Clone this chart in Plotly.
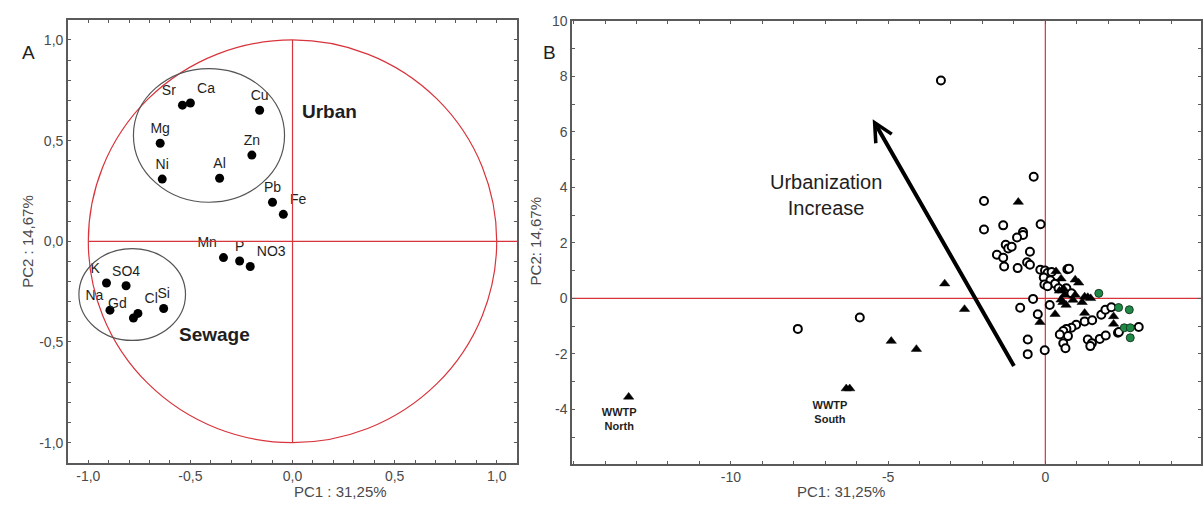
import plotly.graph_objects as go

# ---------------- Panel A data (loadings) ----------------
var_names = ["Sr", "Ca", "Cu", "Mg", "Zn", "Ni", "Al", "Pb", "Fe",
             "Mn", "P", "NO3", "K", "SO4", "Na", "Gd", "Cl", "Si"]
pc1_load = [-0.539, -0.500, -0.161, -0.648, -0.199, -0.638, -0.357, -0.098, -0.045,
            -0.338, -0.259, -0.207, -0.911, -0.815, -0.894, -0.779, -0.757, -0.631]
pc2_load = [0.676, 0.687, 0.651, 0.487, 0.428, 0.309, 0.313, 0.194, 0.134,
            -0.081, -0.098, -0.125, -0.207, -0.221, -0.342, -0.381, -0.358, -0.334]
label_pos = ["top left", "top right", "top center", "top center", "top center",
             "top center", "top center", "top center", "top right",
             "top left", "top center", "top right", "top left", "top center",
             "top left", "top left", "top right", "top center"]

# ---------------- Panel B data (scores) ----------------
circ_x = [-3.32, -7.87, -5.90,
          -0.37, -1.95, -1.95, -1.34, -0.15, -0.71, -0.71, -0.90, -1.26, -1.18,
          -1.07, -1.54, -1.34, -1.31, -0.88, -0.49, -0.58, -0.49, -0.16, -0.01,
          0.07, 0.70, -0.05, 0.16, 0.31, -0.03, 0.07, 0.42, 0.67, -0.39, -0.80,
          0.14, -0.24, 0.83, 1.25, 1.49, 1.78, 1.91, 2.10, 0.98, 0.83, 0.67,
          0.57, 0.46, 0.72, 0.57, 0.64, 1.35, 1.48, 1.43, 1.73, 1.92, 2.31,
          2.97, -0.56, -0.56, -0.02, 0.75, 2.34, 0.20]
circ_y = [7.85, -1.10, -0.69,
          4.38, 3.51, 2.48, 2.63, 2.67, 2.39, 2.28, 2.19, 1.93, 1.80,
          1.86, 1.57, 1.46, 1.15, 1.09, 1.68, 1.30, 1.21, 1.03, 1.00,
          0.91, 1.05, 0.75, 0.65, 0.53, 0.50, 0.44, 0.36, 0.36, -0.02, -0.34,
          -0.24, -0.57, 0.18, -0.83, -0.79, -0.59, -0.41, -0.32, -0.95, -1.06, -1.10,
          -1.18, -1.30, -1.36, -1.62, -1.80, -1.48, -1.62, -1.72, -1.46, -1.34, -1.24,
          -1.03, -1.48, -2.01, -1.87, 1.07, -1.21, 0.95]
tri_x = [-3.20, -4.90, -4.10, -6.33, -6.22, -13.25, -0.86, -2.57,
         0.34, 0.50, 0.95, 1.06, 0.45, 0.61, 0.95, 1.25, 1.35, 1.44,
         0.56, 0.66, 0.88, 1.17, 0.31, -0.17, 1.25, 2.17, 2.17, 0.50, 0.58]
tri_y = [0.53, -1.54, -1.83, -3.25, -3.25, -3.55, 3.47, -0.39,
         0.97, 0.71, 0.67, 0.56, 0.27, 0.12, 0.12, 0.06, 0.04, 0.00,
         -0.14, -0.24, -0.06, -0.14, -0.57, -0.86, -0.53, -0.65, -0.92, -0.05, 0.35]
green_x = [1.70, 2.33, 2.67, 2.51, 2.70, 2.70]
green_y = [0.18, -0.33, -0.41, -1.06, -1.06, -1.42]

site_labels = ["<b>WWTP</b><br><b>North</b>", "<b>WWTP</b><br><b>South</b>"]
site_x = [-13.55, -6.85]
site_y = [-4.40, -4.15]

arrow_tail = (-0.97, -2.49)
arrow_head = (-5.49, 6.45)

# ---------------- tick labels ----------------
a_ticks = [-1.0, -0.5, 0.0, 0.5, 1.0]
a_ticktext = ["-1,0", "-0,5", "0,0", "0,5", "1,0"]
bx_ticks = [-10, -5, 0]
bx_ticktext = ["-10", "-5", "0"]
by_ticks = [-4, -2, 0, 2, 4, 6, 8, 10]
by_ticktext = ["-4", "-2", "0", "2", "4", "6", "8", "10"]

W, H = 1203, 513
FONT = "Liberation Sans, Arial, sans-serif"
RED = "#d8343c"
FRAME = "#5a5a5a"
TXT = "#4a4a4a"
DARK = "#1e1e1e"

fig = go.Figure()

# Panel A
fig.add_trace(go.Scatter(
    x=pc1_load, y=pc2_load, mode="markers+text", text=var_names,
    textposition=label_pos, textfont=dict(family=FONT, size=14, color=DARK),
    marker=dict(color="black", size=9), xaxis="x", yaxis="y",
    showlegend=False, cliponaxis=False))

# Panel B
fig.add_trace(go.Scatter(
    x=circ_x, y=circ_y, mode="markers",
    marker=dict(symbol="circle", color="white", size=8,
                line=dict(color="black", width=2)),
    xaxis="x2", yaxis="y2", showlegend=False))
fig.add_trace(go.Scatter(
    x=tri_x, y=tri_y, mode="markers",
    marker=dict(symbol="triangle-up", color="black", size=9,
                line=dict(color="black", width=0.5)),
    xaxis="x2", yaxis="y2", showlegend=False))
fig.add_trace(go.Scatter(
    x=green_x, y=green_y, mode="markers",
    marker=dict(symbol="circle", color="#1f8a45", size=8,
                line=dict(color="#1a3a25", width=1)),
    xaxis="x2", yaxis="y2", showlegend=False))
fig.add_trace(go.Scatter(
    x=site_x, y=site_y, mode="text", text=site_labels,
    textfont=dict(family=FONT, size=11, color=DARK),
    xaxis="x2", yaxis="y2", showlegend=False))

shapes = []
# Panel A shapes
shapes.append(dict(type="circle", xref="x", yref="y", x0=-1, x1=1, y0=-1, y1=1,
                   line=dict(color=RED, width=1.2)))
shapes.append(dict(type="line", xref="x", yref="y", x0=-1, x1=1.1, y0=0, y1=0,
                   line=dict(color=RED, width=1.2)))
shapes.append(dict(type="line", xref="x", yref="y", x0=0, x1=0, y0=-1, y1=1,
                   line=dict(color=RED, width=1.2)))
shapes.append(dict(type="circle", xref="x", yref="y", x0=-0.779, x1=-0.039,
                   y0=0.194, y1=0.858, line=dict(color="#555555", width=1.2)))
shapes.append(dict(type="circle", xref="x", yref="y", x0=-1.046, x1=-0.524,
                   y0=-0.492, y1=-0.036, line=dict(color="#555555", width=1.2)))
# Panel B red cross
shapes.append(dict(type="line", xref="x2", yref="y2 domain", x0=0, x1=0, y0=0, y1=1,
                   line=dict(color=RED, width=1.2), layer="below"))
shapes.append(dict(type="line", xref="x2 domain", yref="y2", x0=0, x1=1, y0=0, y1=0,
                   line=dict(color=RED, width=1.2), layer="below"))

annotations = [
    dict(text="<b>Urban</b>", x=0.18, y=0.643, xref="x", yref="y", showarrow=False,
         font=dict(family=FONT, size=19, color=DARK)),
    dict(text="<b>Sewage</b>", x=-0.381, y=-0.463, xref="x", yref="y", showarrow=False,
         font=dict(family=FONT, size=19, color=DARK)),
    dict(text="A", x=20 / W, y=1 - 33 / H, xref="paper", yref="paper", showarrow=False,
         font=dict(family=FONT, size=19, color=DARK)),
    dict(text="B", x=550 / W, y=1 - 32 / H, xref="paper", yref="paper", showarrow=False,
         font=dict(family=FONT, size=19, color=DARK)),
    dict(text="PC1 : 31,25%", x=292 / W, y=1 - 502 / H, xref="paper", yref="paper",
         showarrow=False, font=dict(family=FONT, size=15, color=TXT)),
    dict(text="PC2 : 14,67%", x=17 / W, y=1 - 237 / H, xref="paper", yref="paper",
         showarrow=False, textangle=-90, font=dict(family=FONT, size=15, color=TXT)),
    dict(text="PC1: 31,25%", x=888 / W, y=1 - 502 / H, xref="paper", yref="paper",
         showarrow=False, font=dict(family=FONT, size=15, color=TXT)),
    dict(text="PC2: 14,67%", x=536 / W, y=1 - 237 / H, xref="paper", yref="paper",
         showarrow=False, textangle=-90, font=dict(family=FONT, size=15, color=TXT)),
    dict(text="Urbanization<br>Increase", x=-6.96, y=3.73, xref="x2", yref="y2",
         showarrow=False, font=dict(family=FONT, size=20, color=DARK)),
    dict(text="", x=arrow_head[0], y=arrow_head[1], ax=arrow_tail[0], ay=arrow_tail[1],
         xref="x2", yref="y2", axref="x2", ayref="y2", showarrow=True,
         arrowhead=5, arrowsize=0.9, arrowwidth=4, arrowcolor="black", standoff=0),
]

axis_common = dict(showline=True, mirror="ticks", linecolor=FRAME, linewidth=1.5,
                   ticks="inside", ticklen=3, tickcolor=FRAME, tickwidth=1,
                   showgrid=False, zeroline=False,
                   tickfont=dict(family=FONT, size=14, color=TXT))

fig.update_layout(
    width=W, height=H, margin=dict(l=0, r=0, t=0, b=0),
    paper_bgcolor="white", plot_bgcolor="white",
    xaxis=dict(domain=[68 / W, 518 / W], range=[-1.1, 1.1], tickmode="array",
               tickvals=a_ticks, ticktext=a_ticktext,
               minor=dict(dtick=0.1, tick0=0, ticks="inside", ticklen=3, tickcolor=FRAME,
                          showgrid=False), anchor="y", **axis_common),
    yaxis=dict(domain=[1 - 462 / H, 1 - 12 / H], range=[-1.1, 1.1], tickmode="array",
               tickvals=a_ticks, ticktext=a_ticktext,
               minor=dict(dtick=0.1, tick0=0, ticks="inside", ticklen=3, tickcolor=FRAME,
                          showgrid=False), anchor="x", **axis_common),
    xaxis2=dict(domain=[573 / W, 1.0], range=[-15.05, 4.95], tickmode="array",
                tickvals=bx_ticks, ticktext=bx_ticktext,
                minor=dict(dtick=1, tick0=0, ticks="inside", ticklen=3, tickcolor=FRAME,
                           showgrid=False), anchor="y2", **axis_common),
    yaxis2=dict(domain=[1 - 463 / H, 1 - 13 / H], range=[-5.96, 10], tickmode="array",
                tickvals=by_ticks, ticktext=by_ticktext,
                minor=dict(dtick=1, tick0=0, ticks="inside", ticklen=3, tickcolor=FRAME,
                           showgrid=False), anchor="x2", **axis_common),
    shapes=shapes, annotations=annotations,
)

fig.write_html("out.html")
